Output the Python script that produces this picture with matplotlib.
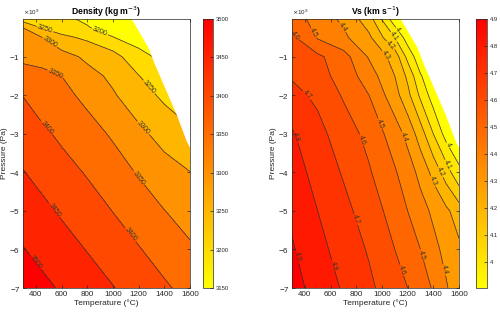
# Density and Vs contour maps (pressure vs temperature)
import numpy as np
import matplotlib
matplotlib.use('Agg')
import matplotlib.pyplot as plt
from matplotlib import colors, ticker

plt.rcParams['font.family'] = ['Liberation Sans', 'DejaVu Sans']
plt.rcParams['axes.unicode_minus'] = False

# ---- data ----------------------------------------------------------------
# density grid (kg m^-3), rows = pressure (GPa), cols = temperature (C)
rho_T = [300, 450, 600, 800, 1000, 1200, 1400, 1600]
rho_P = [0, -0.25, -0.5, -1, -1.5, -2, -3, -4, -5, -6, -7]
rho = [
    [3220, 3215, 3205, 3195, 3180, 3165, 3175, 3180],
    [3300, 3247, 3228, 3202, 3188, 3180, 3180, 3185],
    [3314, 3300, 3261, 3241, 3201, 3185, 3185, 3190],
    [3340, 3336, 3320, 3290, 3271, 3212, 3190, 3200],
    [3368, 3360, 3350, 3317, 3290, 3252, 3205, 3215],
    [3399, 3377, 3364, 3338, 3305, 3272, 3240, 3230],
    [3426, 3409, 3391, 3369, 3344, 3311, 3283, 3255],
    [3452, 3435, 3418, 3396, 3372, 3346, 3319, 3301],
    [3477, 3461, 3444, 3422, 3399, 3375, 3351, 3329],
    [3502, 3486, 3470, 3448, 3425, 3403, 3379, 3357],
    [3527, 3511, 3495, 3474, 3452, 3430, 3407, 3384],
]

# shear velocity grid (km s^-1)
vs_T = [300, 500, 700, 900, 1100, 1200, 1300, 1400, 1500, 1600]
vs_P = [0, -0.5, -1, -1.5, -2, -3, -4, -5, -6, -7]
vs = [
    [4.56, 4.45, 4.38, 4.24, 3.93, 3.91, 3.91, 3.91, 3.91, 3.91],
    [4.62, 4.49, 4.42, 4.32, 4.10, 3.95, 3.92, 3.92, 3.92, 3.92],
    [4.67, 4.62, 4.54, 4.39, 4.26, 4.07, 3.93, 3.92, 3.92, 3.92],
    [4.69, 4.64, 4.56, 4.45, 4.30, 4.18, 4.01, 3.92, 3.92, 3.92],
    [4.73, 4.68, 4.59, 4.50, 4.34, 4.23, 4.08, 3.95, 3.92, 3.92],
    [4.81, 4.73, 4.65, 4.57, 4.45, 4.37, 4.25, 4.10, 3.96, 3.92],
    [4.84, 4.77, 4.69, 4.61, 4.51, 4.45, 4.37, 4.27, 4.15, 4.02],
    [4.88, 4.80, 4.73, 4.65, 4.56, 4.50, 4.44, 4.38, 4.32, 4.25],
    [4.91, 4.83, 4.76, 4.69, 4.60, 4.55, 4.50, 4.43, 4.37, 4.32],
    [4.94, 4.86, 4.79, 4.72, 4.64, 4.60, 4.55, 4.49, 4.41, 4.34],
]

# edge of the blank (no data) region, T (C) and P (GPa)
solidus_T = [1142, 1276, 1327, 1496, 1574, 1600]
solidus_P = [0, -0.76, -1.2, -2.5, -3.19, -3.36]

rho_levels = [3200, 3250, 3300, 3350, 3400, 3450, 3500]
vs_levels = [4.0, 4.1, 4.2, 4.3, 4.4, 4.5, 4.6, 4.7, 4.8, 4.9]
rho_ticks = [3150, 3200, 3250, 3300, 3350, 3400, 3450, 3500]
vs_ticks = [4, 4.1, 4.2, 4.3, 4.4, 4.5, 4.6, 4.7, 4.8, 4.9]

# where the inline labels go (T, P in GPa)
rho_lab = [(471, -0.29), (523, -0.55), (900, -0.33), (549, -1.46),
           (1276, -1.80), (1237, -2.84), (484, -2.84), (1198, -4.15),
           (549, -4.97), (1133, -5.62), (393, -6.36)]
vs_lab = [(368, -0.37), (440, -0.43), (697, -0.23), (1125, -0.29),
          (1102, -0.46), (1063, -0.72), (1037, -0.94), (445, -1.89),
          (320, -3.1), (850, -3.15), (998, -2.72), (1193, -3.06),
          (1543, -3.24), (1514, -3.80), (1470, -3.97), (1398, -4.23),
          (784, -5.23), (329, -6.2), (609, -6.44), (1159, -6.53),
          (1314, -6.14), (1483, -6.53)]

GREY = '0.15'


def draw_panel(ax, cax, T, P, Z, levels, vmin, vmax, cticks, title, lab):
    cmap = plt.get_cmap('autumn_r')
    norm = colors.Normalize(vmin, vmax)
    Z = np.array(Z)
    P = np.array(P) * 1e9
    bounds = [Z.min() - 1] + levels + [Z.max() + 1]
    fills = [cmap(norm(vmin))] + [cmap(norm(v)) for v in levels]
    ax.contourf(T, P, Z, levels=bounds, colors=fills)
    cs = ax.contour(T, P, Z, levels=levels, colors='0.2', linewidths=0.5)
    ax.clabel(cs, fontsize=5, inline=True, inline_spacing=1,
              manual=[(x, y * 1e9) for x, y in lab], fmt='%g')
    # blank region beyond the solidus
    px = solidus_T + [1600, solidus_T[0]]
    py = [p * 1e9 for p in solidus_P] + [0.5e9, 0.5e9]
    ax.fill(px, py, color='white', zorder=2.2, lw=0)

    ax.set_xlim(300, 1600)
    ax.set_ylim(-7e9, -0.02e9)
    ax.set_xticks([400, 600, 800, 1000, 1200, 1400, 1600])
    ax.set_yticks([-7e9, -6e9, -5e9, -4e9, -3e9, -2e9, -1e9])
    fmtr = ticker.ScalarFormatter(useMathText=True)
    ax.yaxis.set_major_formatter(fmtr)
    ax.yaxis.get_offset_text().set_fontsize(4.5)
    ax.yaxis.get_offset_text().set_color(GREY)
    ax.tick_params(direction='in', top=True, right=True, length=2.5,
                   width=0.5, labelsize=5.8, colors=GREY, pad=2)
    for s in ax.spines.values():
        s.set_linewidth(0.5)
        s.set_color(GREY)
        s.set_zorder(3)
    ax.set_xlabel('Temperature (°C)', fontsize=6, color=GREY, labelpad=1)
    ax.set_ylabel('Pressure (Pa)', fontsize=6, color=GREY, labelpad=1)
    ax.set_title(title, fontsize=6.2, fontweight='bold', pad=3)

    sm = plt.cm.ScalarMappable(norm=norm, cmap=cmap)
    cb = plt.colorbar(sm, cax=cax, ticks=cticks)
    cb.ax.tick_params(direction='in', length=2, width=0.5,
                      labelsize=4.2, colors=GREY, pad=2)
    cb.ax.yaxis.set_major_formatter(ticker.FormatStrFormatter('%g'))
    cb.outline.set_linewidth(0.5)
    cb.outline.set_edgecolor(GREY)


fig = plt.figure(figsize=(5, 3.15), dpi=100)
ax1 = fig.add_axes([0.046, 0.0857, 0.334, 0.854])
cax1 = fig.add_axes([0.406, 0.0857, 0.02, 0.854])
ax2 = fig.add_axes([0.584, 0.0857, 0.334, 0.854])
cax2 = fig.add_axes([0.952, 0.0857, 0.022, 0.854])

draw_panel(ax1, cax1, rho_T, rho_P, rho, rho_levels, 3150, 3500, rho_ticks,
           'Density (kg m$^{-3}$)', rho_lab)
draw_panel(ax2, cax2, vs_T, vs_P, vs, vs_levels, 3.905, 4.9, vs_ticks,
           'Vs (km s$^{-1}$)', vs_lab)

plt.savefig('out.png', dpi=100)
